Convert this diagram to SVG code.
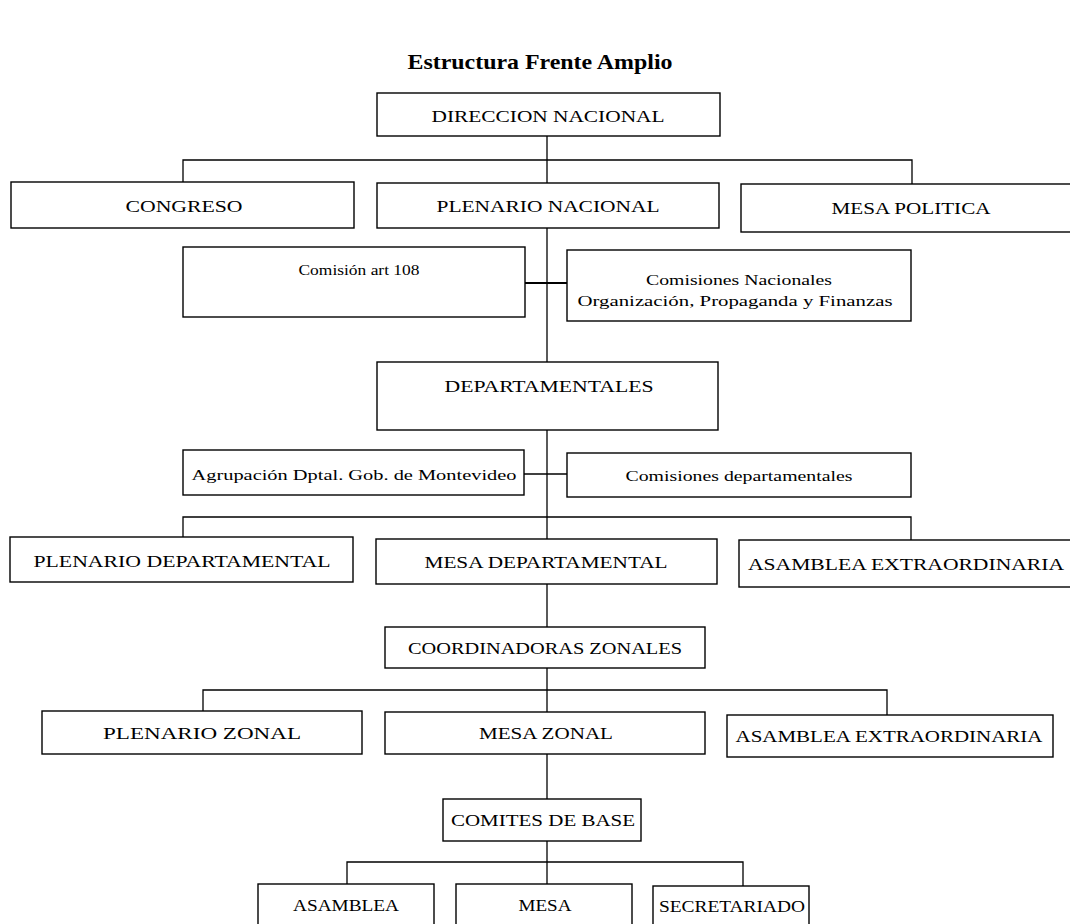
<svg xmlns="http://www.w3.org/2000/svg" width="1070" height="924" viewBox="0 0 1070 924">
<style>
  .box{fill:#fff;stroke:#000;stroke-width:1.4}
  .ln{fill:none;stroke:#000;stroke-width:1.3}
  .thick{fill:none;stroke:#000;stroke-width:2.2}
  text{font-family:"Liberation Serif","Times New Roman",serif;fill:#000;text-anchor:middle}
  .cap{font-size:17px}
  .low{font-size:15px}
  .title{font-size:21px;font-weight:bold}
</style>
<rect x="0" y="0" width="1070" height="924" fill="#fff"/>
<text class="title" x="540" y="69" textLength="265" lengthAdjust="spacingAndGlyphs">Estructura Frente Amplio</text>

<g id="connectors">
  <path class="ln" d="M547 136V183M183 182V160H912V184"/>
  <path class="ln" d="M547 228V362"/>
  <path class="thick" d="M525 283H567"/>
  <path class="ln" d="M547 430V539"/>
  <path class="ln" d="M524 474H567"/>
  <path class="ln" d="M183 537V517H911V540"/>
  <path class="ln" d="M547 584V627"/>
  <path class="ln" d="M547 668V712"/>
  <path class="ln" d="M203 711V690H887V715"/>
  <path class="ln" d="M547 754V799"/>
  <path class="ln" d="M547 841V884"/>
  <path class="ln" d="M347 884V862H743V886"/>
</g>

<g id="direccion-nacional"><rect class="box" x="377" y="93" width="343" height="43"/><text class="cap" x="548" y="122" textLength="233" lengthAdjust="spacingAndGlyphs">DIRECCION NACIONAL</text></g>
<g id="congreso"><rect class="box" x="11" y="182" width="343" height="46"/><text class="cap" x="184" y="212" textLength="117" lengthAdjust="spacingAndGlyphs">CONGRESO</text></g>
<g id="plenario-nacional"><rect class="box" x="377" y="183" width="342" height="45"/><text class="cap" x="548" y="212" textLength="223" lengthAdjust="spacingAndGlyphs">PLENARIO NACIONAL</text></g>
<g id="mesa-politica"><rect class="box" x="741" y="184" width="335" height="48"/><text class="cap" x="911" y="214" textLength="159" lengthAdjust="spacingAndGlyphs">MESA POLITICA</text></g>

<g id="comision-art-108"><rect class="box" x="183" y="247" width="342" height="70"/><text class="low" x="359" y="275" textLength="121" lengthAdjust="spacingAndGlyphs">Comisión art 108</text></g>
<g id="comisiones-nacionales"><rect class="box" x="567" y="250" width="344" height="71"/><text class="low" x="739" y="285" textLength="186" lengthAdjust="spacingAndGlyphs">Comisiones Nacionales</text><text class="low" x="735" y="306" textLength="315" lengthAdjust="spacingAndGlyphs">Organización, Propaganda y Finanzas</text></g>

<g id="departamentales"><rect class="box" x="377" y="362" width="341" height="68"/><text class="cap" x="549" y="392" textLength="209" lengthAdjust="spacingAndGlyphs">DEPARTAMENTALES</text></g>

<g id="agrupacion"><rect class="box" x="183" y="450" width="341" height="45"/><text class="low" x="354" y="480" textLength="325" lengthAdjust="spacingAndGlyphs">Agrupación Dptal. Gob. de Montevideo</text></g>
<g id="comisiones-departamentales"><rect class="box" x="567" y="453" width="344" height="44"/><text class="low" x="739" y="481" textLength="227" lengthAdjust="spacingAndGlyphs">Comisiones departamentales</text></g>

<g id="plenario-departamental"><rect class="box" x="10" y="537" width="343" height="45"/><text class="cap" x="182" y="567" textLength="297" lengthAdjust="spacingAndGlyphs">PLENARIO DEPARTAMENTAL</text></g>
<g id="mesa-departamental"><rect class="box" x="376" y="539" width="341" height="45"/><text class="cap" x="546" y="568" textLength="243" lengthAdjust="spacingAndGlyphs">MESA DEPARTAMENTAL</text></g>
<g id="asamblea-extraordinaria-dep"><rect class="box" x="739" y="540" width="337" height="47"/><text class="cap" x="906" y="570" textLength="316" lengthAdjust="spacingAndGlyphs">ASAMBLEA EXTRAORDINARIA</text></g>

<g id="coordinadoras-zonales"><rect class="box" x="385" y="627" width="320" height="41"/><text class="cap" x="545" y="654" textLength="274" lengthAdjust="spacingAndGlyphs">COORDINADORAS ZONALES</text></g>

<g id="plenario-zonal"><rect class="box" x="42" y="711" width="320" height="43"/><text class="cap" x="202" y="739" textLength="198" lengthAdjust="spacingAndGlyphs">PLENARIO ZONAL</text></g>
<g id="mesa-zonal"><rect class="box" x="385" y="712" width="320" height="42"/><text class="cap" x="546" y="739" textLength="134" lengthAdjust="spacingAndGlyphs">MESA ZONAL</text></g>
<g id="asamblea-extraordinaria-zonal"><rect class="box" x="727" y="715" width="326" height="42"/><text class="cap" x="889" y="742" textLength="307" lengthAdjust="spacingAndGlyphs">ASAMBLEA EXTRAORDINARIA</text></g>

<g id="comites-de-base"><rect class="box" x="443" y="799" width="198" height="42"/><text class="cap" x="543" y="826" textLength="184" lengthAdjust="spacingAndGlyphs">COMITES DE BASE</text></g>

<g id="asamblea"><rect class="box" x="258" y="884" width="176" height="50"/><text class="cap" x="346" y="911" textLength="106" lengthAdjust="spacingAndGlyphs">ASAMBLEA</text></g>
<g id="mesa"><rect class="box" x="456" y="884" width="176" height="50"/><text class="cap" x="545" y="911" textLength="53" lengthAdjust="spacingAndGlyphs">MESA</text></g>
<g id="secretariado"><rect class="box" x="653" y="886" width="156" height="48"/><text class="cap" x="732" y="912" textLength="146" lengthAdjust="spacingAndGlyphs">SECRETARIADO</text></g>
</svg>
